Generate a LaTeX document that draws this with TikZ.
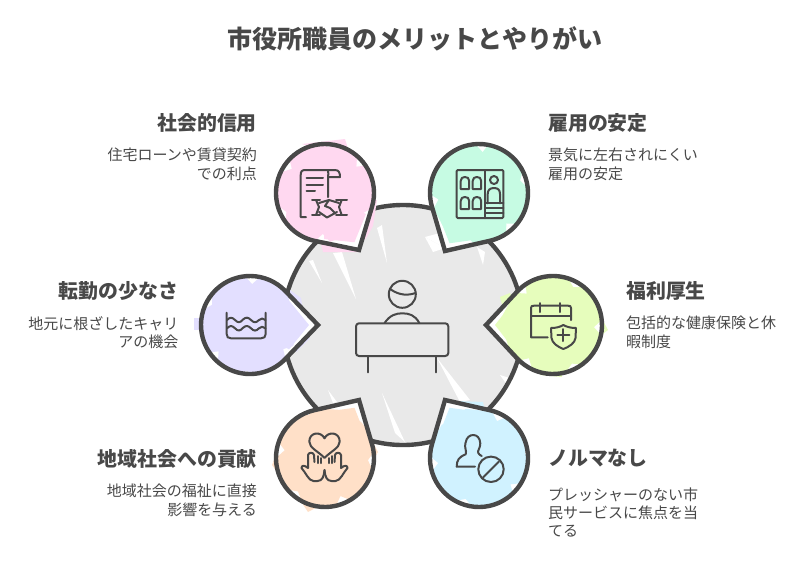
\documentclass[tikz,border=0pt]{standalone}
\usepackage{fontspec}
\setmainfont{Noto Sans CJK JP}
\definecolor{inkgray}{HTML}{484848}
\definecolor{discgray}{HTML}{E9E9E9}
\definecolor{pinkfill}{HTML}{FFD8F0}
\definecolor{mintfill}{HTML}{C6FBE3}
\definecolor{limefill}{HTML}{E6FDBC}
\definecolor{lilacfill}{HTML}{E3DFFF}
\definecolor{peachfill}{HTML}{FFE0C8}
\definecolor{skyfill}{HTML}{D0F2FF}
\tikzset{
  outline/.style={draw=inkgray,line width=4.4pt,line join=miter},
  icon/.style={draw=inkgray,line width=2pt,line cap=round,line join=round},
  headtext/.style={font=\fontsize{19.9}{24}\selectfont\bfseries,text=inkgray,inner sep=0pt},
  bodytext/.style={font=\fontsize{15}{18.2}\selectfont,text=inkgray,inner sep=0pt},
  titletext/.style={font=\fontsize{25}{30}\selectfont\bfseries,text=inkgray,inner sep=0pt}
}
\begin{document}
\begin{tikzpicture}[x=1pt,y=-1pt]
\useasboundingbox (0,0) rectangle (804,566);
% centre disc
\fill[discgray] (403,325) circle (118pt);
\foreach \ax/\ay/\bx/\by/\ex/\ey in {309/261/322/283/313/260,333/253/356/299/342/252,377/228/387/263/382/225,
    425/237/433/252/445/248,425/237/445/248/440/233,477/247/483/265/485/252,437/358/460/402/470/400,
    382/393/395/433/405/442,328/390/333/403/337/402,500/375/512/392/516/380}
{
    \fill[white] (\ax,\ay)--(\bx,\by)--(\ex,\ey)--cycle;
}
\draw[outline] (403,325) circle (120pt);

% overhanging patches
\fill[pinkfill] (302,144)--(345,139)--(350,155)--(320,150)--cycle;
\fill[pinkfill] (377,200)--(373,226)--(365,240)--(360,200)--cycle;
\fill[pinkfill] (323,252)--(359,252)--(350,235)--(320,240)--cycle;
\fill[mintfill] (435,222)--(444,250)--(450,230)--cycle;
\fill[limefill] (540,275)--(560,275)--(560,285)--(540,285)--cycle;
\fill[limefill] (600,315)--(608,330)--(595,340)--cycle;
\fill[limefill] (540,375)--(562,377)--(560,365)--(540,365)--cycle;
\fill[limefill] (500,297)--(510,293)--(515,305)--(505,315)--cycle;
\fill[lilacfill] (194,318)--(194,330)--(208,330)--(208,318)--cycle;
\fill[lilacfill] (290,290)--(301,298)--(303,312)--(290,310)--cycle;
\fill[lilacfill] (296,352)--(310,338)--(295,335)--cycle;
\fill[peachfill] (272,465)--(278,450)--(285,470)--(283,480)--cycle;
\fill[peachfill] (300,500)--(308,512)--(325,503)--cycle;
\fill[peachfill] (370,465)--(378,452)--(372,440)--cycle;
\fill[skyfill] (458,401)--(483,402)--(485,412)--(460,412)--cycle;

% pins
\foreach \cx/\cy/\tx/\ty/\col/\rot in {325/193/359/250/pinkfill/20,479/193/445/251/mintfill/65,
    553/325/486/325/limefill/110,250/325/318/325/lilacfill/200,325/458/359/400/peachfill/45,479/458/445/400/skyfill/300}
{
    \pgfmathsetmacro{\tipang}{atan2(\cy-\ty,\tx-\cx)}
    \pgfmathsetmacro{\tipd}{veclen(\tx-\cx,\ty-\cy)}
    \pgfmathsetmacro{\half}{acos(49/\tipd)}
    \pgfmathsetmacro{\startang}{\tipang+\half}
    \pgfmathsetmacro{\endang}{\tipang+360-\half}
    \begin{scope}
    \clip (\tx,\ty)--([shift={(\startang:49pt)}]\cx,\cy) arc[start angle=\startang,end angle=\endang,radius=49pt]--cycle;
    \fill[white] (0,0) rectangle (804,566);
    \end{scope}
    \fill[\col] (\cx,\cy)--([shift={(\tipang-32:46pt)}]\cx,\cy)--([shift={(\tipang:\tipd pt-9pt)}]\cx,\cy)--([shift={(\tipang+32:46pt)}]\cx,\cy)--cycle;
    \begin{scope}[shift={(\cx,\cy)},rotate=\rot]
    \fill[\col] (0:51pt)--(14:49pt)--(20:41pt)--(30:50pt)--(58:51pt)--(66:46pt)--(76:50pt)--(104:51pt)--(118:47pt)--(124:41pt)--(134:48pt)
        --(165:51pt)--(178:47pt)--(186:43pt)--(198:50pt)--(226:51pt)--(240:47pt)--(247:41pt)--(256:49pt)--(290:51pt)--(304:47pt)--(312:43pt)--(322:49pt)--(345:51pt)--cycle;
    \end{scope}
    \draw[outline] (\tx,\ty)--([shift={(\startang:49pt)}]\cx,\cy) arc[start angle=\startang,end angle=\endang,radius=49pt]--cycle;
}

% person at desk
\draw[icon] (402.3,294.3) circle (13.5pt);
\draw[icon] (390,289) .. controls (396,293) and (404,297) .. (415.7,293);
\draw[icon] (384.6,323) .. controls (390,315) and (396,313.3) .. (402.3,313.3) .. controls (409,313.3) and (415,315) .. (419.3,323);
\draw[icon,rounded corners=3pt] (356,323.3) rectangle (448.3,356);
\draw[icon] (367.7,356)--(367.7,372.3);
\draw[icon] (435.7,356)--(435.7,372.3);

% document and handshake
\draw[icon] (306,217)--(300.7,217)--(300.7,175) .. controls (300.7,171) and (302,170) .. (306,170)--(335,170) .. controls (339,170) and (340,173) .. (340,177)--(328,177);
\draw[icon] (328,171) .. controls (329,172) and (328,175) .. (328,177)--(328,197);
\draw[icon] (306.5,178)--(323,178);
\draw[icon] (306.5,185)--(323,185);
\draw[icon] (306.5,190.7)--(315,190.7);
\draw[icon] (312,200)--(320,200);
\draw[icon] (312,215)--(320,215);
\draw[icon] (316,200)--(319,207)--(316,215);
\draw[icon] (336,200)--(347,200);
\draw[icon] (336,215)--(347,215);
\draw[icon] (341.7,200)--(339,207)--(341.7,215);
\draw[icon] (319,203)--(329,200)--(339,203);
\draw[icon] (319,212)--(327,217.5)--(337,212);
\draw[icon] (329,200)--(325,206)--(330,208)--(335,213);

% building
\draw[icon,rounded corners=1pt] (456.7,170) rectangle (503.3,218);
\draw[icon] (485,170)--(485,218);
\foreach \wx/\wy in {460.7/177,472.7/177,460.7/197,472.7/197}
{
    \draw[icon] (\wx,\wy+12)--(\wx,\wy+4) .. controls (\wx,\wy+1) and (\wx+2,\wy) .. (\wx+4.2,\wy) .. controls (\wx+6.5,\wy) and (\wx+8.5,\wy+1) .. (\wx+8.5,\wy+4)--(\wx+8.5,\wy+12)--cycle;
}
\draw[icon] (494,180) circle (4pt);
\draw[icon] (487.7,203.3)--(487.7,194) .. controls (487.7,190) and (490,188) .. (494,188) .. controls (498,188) and (500,190) .. (500,194)--(500,203.3);
\foreach \ly in {203.3,208,213}
{
    \draw[icon] (485,\ly)--(503.3,\ly);
}

% calendar and shield
\draw[icon] (571,320)--(571,308) .. controls (571,306) and (570,305.7) .. (568,305.7)--(534,305.7) .. controls (532,305.7) and (531,306) .. (531,308)--(531,337.3)--(547.7,337.3);
\draw[icon] (531,315.7)--(571,315.7);
\draw[icon] (540,303)--(540,312);
\draw[icon] (560,303)--(560,312);
\draw[icon] (551,328) .. controls (556,328) and (560,327) .. (563.3,325) .. controls (567,327) and (571,328) .. (576,328)--(575.5,338) .. controls (575,343) and (569,347) .. (563.3,349) .. controls (558,347) and (552,343) .. (551.5,338)--cycle;
\draw[icon] (557.3,335)--(569.3,335);
\draw[icon] (563.3,329)--(563.3,341);

% basin with waves
\draw[icon] (226.7,312.7)--(226.7,334) .. controls (226.7,337) and (228,338.3) .. (231,338.3)--(261,338.3) .. controls (264,338.3) and (265.7,337) .. (265.7,334)--(265.7,312.7);
\foreach \wy in {320,328.3}
{
    \draw[icon] (227,\wy) .. controls (230,\wy-3) and (232,\wy-3) .. (235,\wy) .. controls (238,\wy+3) and (240,\wy+3) .. (243,\wy-0.5) .. controls (246,\wy-3) and (248,\wy-3) .. (251,\wy) .. controls (254,\wy+3) and (256,\wy+3) .. (259,\wy) .. controls (261,\wy-2) and (263,\wy-2) .. (265.5,\wy);
}

% heart and hands
\draw[icon] (324.5,458) .. controls (318,451) and (309.3,448) .. (309.3,441.5) .. controls (309.3,432) and (321,431) .. (324.5,438.3) .. controls (328,431) and (339.7,432) .. (339.7,441.5) .. controls (339.7,448) and (331,451) .. (324.5,458);
\foreach \s in {1,-1}
{
    \begin{scope}[shift={(324.5,0)},xscale=\s]
    \draw[icon] (0,470) .. controls (-0.5,476) and (-2,481) .. (-7,481)--(-11,481) .. controls (-16,481) and (-19,472) .. (-23,468) .. controls (-23,465) and (-20,465) .. (-16.5,468)--(-16.5,455) .. controls (-16,452) and (-11,452) .. (-10.5,455)--(-10,462);
    \draw[icon] (-7,456)--(-7,463);
    \draw[icon] (-4,458)--(-4,463);
    \end{scope}
}

% person with no-entry sign
\draw[icon] (475,466.7)--(456.7,466.7) .. controls (456.7,460) and (459,457) .. (465.7,454.3) .. controls (467,451) and (464,447) .. (465.5,443) .. controls (466.5,437) and (470,435) .. (473.3,435) .. controls (477,435) and (480,438) .. (480.3,443.3) .. controls (480.5,448) and (477,451) .. (478.3,453) .. controls (479,454.5) and (480,455) .. (481.7,456);
\draw[icon] (491,469.3) circle (12.7pt);
\draw[icon] (483,477.5)--(499,461.5);

% texts
\node[titletext] (maintitle) at (415,38.5) {市役所職員のメリットとやりがい};
\node[headtext,anchor=east] (creditname) at (257,122.5) {社会的信用};
\node[bodytext,anchor=north east,align=right] (creditdesc) at (257,148) {住宅ローンや賃貸契約\\での利点};
\node[headtext,anchor=west] (jobname) at (548,122.5) {雇用の安定};
\node[bodytext,anchor=north west,align=left] (jobdesc) at (548,148) {景気に左右されにくい\\雇用の安定};
\node[headtext,anchor=west] (welfarename) at (626,290.5) {福利厚生};
\node[bodytext,anchor=north west,align=left] (welfaredesc) at (626,316) {包括的な健康保険と休\\暇制度};
\node[headtext,anchor=east] (transfername) at (178.5,290.5) {転勤の少なさ};
\node[bodytext,anchor=north east,align=right] (transferdesc) at (178.5,316) {地元に根ざしたキャリ\\アの機会};
\node[headtext,anchor=east] (localname) at (257,458.5) {地域社会への貢献};
\node[bodytext,anchor=north east,align=right] (localdesc) at (257,484) {地域社会の福祉に直接\\影響を与える};
\node[headtext,anchor=west] (quotaname) at (548,458.5) {ノルマなし};
\node[bodytext,anchor=north west,align=left] (quotadesc) at (548,487.5) {プレッシャーのない市\\民サービスに焦点を当\\てる};
\end{tikzpicture}
\end{document}
